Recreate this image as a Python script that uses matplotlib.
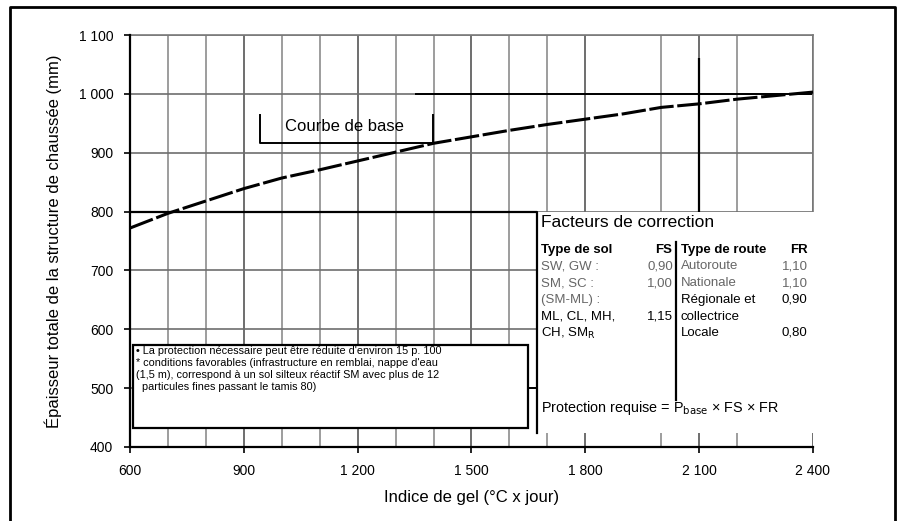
import matplotlib
import matplotlib.pyplot as plt
from matplotlib.patches import Rectangle
from matplotlib.lines import Line2D

# base curve (frost index vs total pavement thickness)
indice_gel = [600, 700, 800, 900, 1000, 1100, 1200, 1300, 1400, 1500,
              1600, 1700, 1800, 1900, 2000, 2100, 2200, 2300, 2400]
epaisseur = [772, 797, 818, 839, 857, 871, 886, 901, 916, 927,
             938, 948, 957, 966, 977, 983, 991, 997, 1003]

x_ticks = [600, 900, 1200, 1500, 1800, 2100, 2400]
x_ticklabels = ['600', '900', '1 200', '1 500', '1 800', '2 100', '2 400']
y_ticks = [400, 500, 600, 700, 800, 900, 1000, 1100]
y_ticklabels = ['400', '500', '600', '700', '800', '900', '1 000', '1 100']

# correction factors table
sols = ['SW, GW :', 'SM, SC :', '(SM-ML) :', 'ML, CL, MH,', 'CH, SM$_\\mathrm{R}$']
fs = ['0,90', '1,00', '', '1,15', '']
routes = ['Autoroute', 'Nationale', 'Régionale et', 'collectrice', 'Locale']
fr = ['1,10', '1,10', '0,90', '', '0,80']

note = ["• La protection nécessaire peut être réduite d'environ 15 p. 100",
        "* conditions favorables (infrastructure en remblai, nappe d'eau",
        "(1,5 m), correspond à un sol silteux réactif SM avec plus de 12",
        "  particules fines passant le tamis 80)"]

matplotlib.rcParams['font.family'] = 'Liberation Sans'

fig = plt.figure(figsize=(9.03, 5.21), dpi=100)
ax = fig.add_axes([130 / 903, (521 - 447) / 521, (813 - 130) / 903, (447 - 35) / 521])
ax.set_xlim(600, 2400)
ax.set_ylim(400, 1100)

# grid (drawn by hand, the scan misses 1900 and 2300)
for gx in range(700, 2401, 100):
    if gx in (1900, 2300):
        continue
    col = '#555555' if gx % 300 == 0 else '#8c8c8c'
    ax.vlines(gx, 400, 1100, color=col, linewidth=1.2, zorder=1)
for gy in range(500, 1101, 100):
    ax.hlines(gy, 600, 2400, color='#6e6e6e', linewidth=1.2, zorder=1)

# darker lines from the original drawing
ax.hlines(1000, 1351, 2400, color='black', linewidth=1.4, zorder=2)
ax.vlines(2100, 800, 1061, color='black', linewidth=1.6, zorder=2)

# curve
ax.plot(indice_gel, epaisseur, color='black', linewidth=2.2,
        linestyle=(0, (8, 1.2)), zorder=5, clip_on=False)

# "Courbe de base" callout
ax.plot([943, 943, 1398, 1398], [964, 916.5, 916.5, 964], color='black',
        linewidth=1.4, zorder=6)
ax.text(1166, 944, 'Courbe de base', fontsize=12, ha='center', va='center', zorder=6)

# factors box (white area, no grid)
ax.add_patch(Rectangle((1673, 423), 760, 377, facecolor='white', edgecolor='none',
                       zorder=3, clip_on=False))
ax.plot([600, 1673, 1673], [800, 800, 423], color='black', linewidth=1.6, zorder=6)
ax.plot([2039, 2039], [480, 748], color='black', linewidth=1.6, zorder=6)
ax.plot([1649, 1673], [500, 500], color='black', linewidth=1.4, zorder=6)

ax.text(1683, 782, 'Facteurs de correction', fontsize=12.5, ha='left', va='center', zorder=7)
rows_y = [707.5, 678.6, 649.8, 620.9, 593.7]
ax.text(1683, 734.7, 'Type de sol', fontsize=9.5, fontweight='bold', va='center', zorder=7)
ax.text(2028, 734.7, 'FS', fontsize=9.5, fontweight='bold', ha='right', va='center', zorder=7)
ax.text(2052, 734.7, 'Type de route', fontsize=9.5, fontweight='bold', va='center', zorder=7)
ax.text(2386, 734.7, 'FR', fontsize=9.5, fontweight='bold', ha='right', va='center', zorder=7)
for i in range(len(sols)):
    c1 = '#666666' if i < 3 else 'black'
    c2 = '#666666' if i < 2 else 'black'
    ax.text(1683, rows_y[i], sols[i], fontsize=9.5, color=c1, va='center', zorder=7)
    ax.text(2031, rows_y[i], fs[i], fontsize=9.5, color=c1, ha='right', va='center', zorder=7)
    ax.text(2052, rows_y[i], routes[i], fontsize=9.5, color=c2, va='center', zorder=7)
    ax.text(2386, rows_y[i], fr[i], fontsize=9.5, color=c2, ha='right', va='center', zorder=7)
ax.text(1683, 466, 'Protection requise = P$_\\mathrm{base}$ × FS × FR', fontsize=10.4,
        va='center', zorder=7)

# note box
ax.add_patch(Rectangle((608, 432.3), 1041, 141, facecolor='white', edgecolor='black',
                       linewidth=1.6, zorder=6))
note_y = [563.1, 542.7, 522.3, 501.9]
for i, line in enumerate(note):
    ax.text(616, note_y[i], line, fontsize=7.8, va='center', zorder=7)

# axes styling
for s in ['top', 'right']:
    ax.spines[s].set_color('#7a7a7a')
    ax.spines[s].set_linewidth(1.2)
ax.spines['right'].set_bounds(800, 1100)
for s in ['left', 'bottom']:
    ax.spines[s].set_color('black')
    ax.spines[s].set_linewidth(1.6)
ax.spines['left'].set_zorder(8)
ax.spines['bottom'].set_zorder(8)

ax.set_xticks(x_ticks)
ax.set_xticklabels(x_ticklabels)
ax.set_yticks(y_ticks)
ax.set_yticklabels(y_ticklabels)
ax.tick_params(axis='both', direction='out', length=4, width=1.2, labelsize=10, pad=8)

ax.set_xlabel('Indice de gel (°C x jour)', fontsize=12, labelpad=9)
ax.set_ylabel('Épaisseur totale de la structure de chaussée (mm)', fontsize=12, labelpad=12)

# outer frame
fig.add_artist(Line2D([10 / 903, 10 / 903, 895 / 903, 895 / 903],
                      [0, 1 - 7 / 521, 1 - 7 / 521, 0],
                      color='black', linewidth=2, transform=fig.transFigure))

fig.savefig('out.png', dpi=100)
